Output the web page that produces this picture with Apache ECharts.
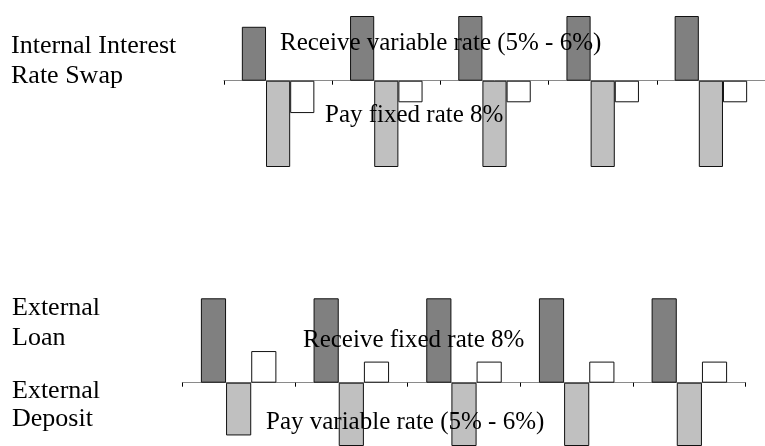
<!DOCTYPE html>
<html>
<head>
<meta charset="utf-8">
<script src="https://cdn.jsdelivr.net/npm/echarts@6/dist/echarts.min.js"></script>
<style>
html,body{margin:0;padding:0;background:#fff;}
#chart{width:765px;height:446px;}
</style>
</head>
<body>
<div id="chart"></div>
<script>
// Periods (unlabelled in the original)
var periods = ['1', '2', '3', '4', '5'];

// Internal interest rate swap
var swapReceiveVariable = [5, 6, 6, 6, 6];
var swapPayFixed = [-8, -8, -8, -8, -8];
var swapNet = [-3, -2, -2, -2, -2];

// External loan / deposit
var loanReceiveFixed = [8, 8, 8, 8, 8];
var depositPayVariable = [-5, -6, -6, -6, -6];
var externalNet = [3, 2, 2, 2, 2];

var FONT = '"Liberation Serif", "DejaVu Serif", serif';
var DARK = '#808080', LIGHT = '#c0c0c0', WHITE = '#ffffff';

function xAx(gi) {
  return {
    type: 'category', gridIndex: gi, data: periods,
    axisLine: { onZero: true, lineStyle: { color: '#8a8a8a', width: 1 } },
    axisTick: { show: true, alignWithLabel: false, length: 4, inside: false, lineStyle: { color: '#000', width: 1 } },
    axisLabel: { show: false },
    splitLine: { show: false }
  };
}
function yAx(gi, min, max) {
  return { type: 'value', gridIndex: gi, min: min, max: max, show: false, splitLine: { show: false } };
}
function bar(name, data, color, gi) {
  return {
    name: name, type: 'bar', xAxisIndex: gi, yAxisIndex: gi, data: data,
    barGap: '0%', barCategoryGap: '33%',
    itemStyle: { color: color, borderColor: '#111', borderWidth: 1 },
    emphasis: { disabled: true },
    animation: false
  };
}
function txt(x, y, s, size) {
  return {
    type: 'text', left: x, top: y, z: 100,
    style: { text: s, font: (size || 25) + 'px ' + FONT, fill: '#000', textVerticalAlign: 'top' }
  };
}

var chart = echarts.init(document.getElementById('chart'));
chart.setOption({
  animation: false,
  grid: [
    { left: 224, top: 16, width: 546.5, height: 151 },
    { left: 182.3, top: 298.3, width: 563.4, height: 148.7 }
  ],
  xAxis: [xAx(0), xAx(1)],
  yAxis: [yAx(0, -8, 6), yAx(1, -6, 8)],
  series: [
    bar('Receive variable rate', swapReceiveVariable, DARK, 0),
    bar('Pay fixed rate', swapPayFixed, LIGHT, 0),
    bar('Net', swapNet, WHITE, 0),
    bar('Receive fixed rate', loanReceiveFixed, DARK, 1),
    bar('Pay variable rate', depositPayVariable, LIGHT, 1),
    bar('Net', externalNet, WHITE, 1)
  ],
  graphic: [
    txt(11, 33, 'Internal Interest', 26),
    txt(11, 63, 'Rate Swap', 26),
    txt(12, 295, 'External', 26),
    txt(12, 325, 'Loan', 26),
    txt(12, 378, 'External', 26),
    txt(12, 406, 'Deposit', 26),
    txt(280, 31, 'Receive variable rate (5% - 6%)'),
    txt(325, 103, 'Pay fixed rate 8%'),
    txt(303, 328, 'Receive fixed rate 8%'),
    txt(266, 410, 'Pay variable rate (5% - 6%)')
  ]
});
</script>
</body>
</html>
